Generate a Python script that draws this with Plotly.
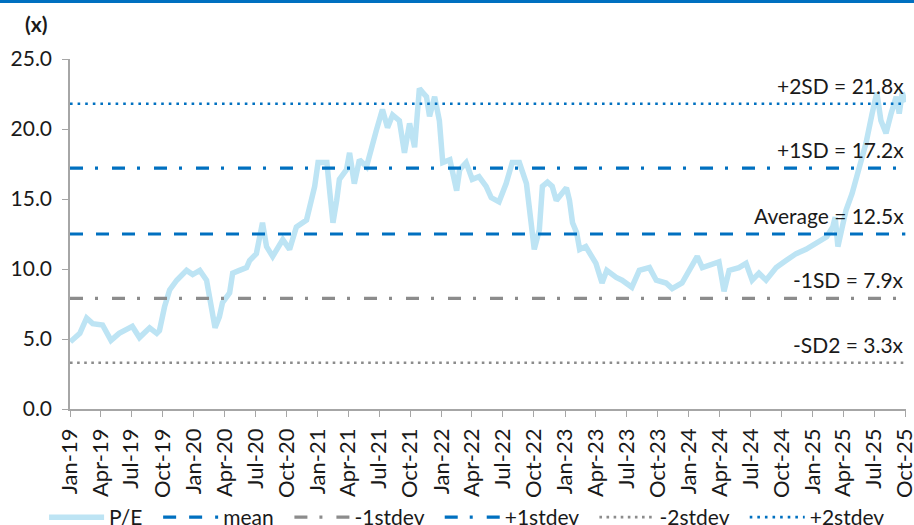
import plotly.graph_objects as go

# ---- data ----
dates = [
    "2019-01-02", "2019-01-30", "2019-02-19", "2019-03-09", "2019-04-07", "2019-05-02",
    "2019-05-26", "2019-07-04", "2019-07-25", "2019-08-24", "2019-09-14", "2019-09-22",
    "2019-10-07", "2019-10-22", "2019-11-12", "2019-12-11", "2019-12-29", "2020-01-19",
    "2020-02-08", "2020-02-23", "2020-03-04", "2020-03-17", "2020-03-26", "2020-04-16",
    "2020-04-25", "2020-05-15", "2020-06-05", "2020-06-14", "2020-07-04", "2020-07-22",
    "2020-08-03", "2020-08-21", "2020-09-20", "2020-10-10", "2020-10-30", "2020-11-29",
    "2020-12-14", "2020-12-23", "2021-01-02", "2021-01-28", "2021-02-06", "2021-02-15",
    "2021-02-26", "2021-03-06", "2021-03-27", "2021-04-05", "2021-04-19", "2021-05-04",
    "2021-05-25", "2021-06-11", "2021-06-23", "2021-07-11", "2021-07-26", "2021-08-10",
    "2021-08-30", "2021-09-14", "2021-09-29", "2021-10-14", "2021-10-28", "2021-11-07",
    "2021-11-18", "2021-11-27", "2021-12-12", "2021-12-26", "2022-01-05", "2022-01-26",
    "2022-02-04", "2022-02-15", "2022-02-24", "2022-03-15", "2022-04-02", "2022-04-22",
    "2022-05-13", "2022-05-28", "2022-06-20", "2022-07-11", "2022-07-29", "2022-08-19",
    "2022-09-09", "2022-09-18", "2022-09-24", "2022-10-02", "2022-10-17", "2022-10-26",
    "2022-11-10", "2022-11-24", "2022-12-06", "2022-12-21", "2023-01-05", "2023-01-14",
    "2023-01-23", "2023-02-04", "2023-02-13", "2023-03-03", "2023-03-21", "2023-04-02",
    "2023-04-20", "2023-05-04", "2023-06-01", "2023-06-18", "2023-07-17", "2023-08-08",
    "2023-09-07", "2023-09-27", "2023-10-26", "2023-11-13", "2023-12-12", "2024-01-03",
    "2024-01-26", "2024-02-10", "2024-03-10", "2024-03-30", "2024-04-14", "2024-04-29",
    "2024-05-28", "2024-06-18", "2024-07-06", "2024-07-26", "2024-08-16", "2024-09-15",
    "2024-10-14", "2024-11-13", "2024-12-12", "2025-01-12", "2025-02-11", "2025-03-01",
    "2025-03-08", "2025-03-16", "2025-03-25", "2025-04-09", "2025-04-27", "2025-05-17",
    "2025-06-07", "2025-06-25", "2025-07-09", "2025-07-21", "2025-08-05", "2025-08-20",
    "2025-09-04", "2025-09-13", "2025-09-22", "2025-09-30",
]
pe = [
    4.8, 5.4, 6.5, 6.1, 6.0, 4.9,
    5.4, 5.9, 5.1, 5.8, 5.4, 5.6,
    7.3, 8.5, 9.2, 9.9, 9.6, 9.9,
    9.2, 7.3, 5.8, 6.6, 7.6, 8.3,
    9.7, 9.9, 10.1, 10.6, 11.1, 13.3,
    11.6, 10.9, 12.1, 11.4, 13.0, 13.5,
    14.9, 15.9, 17.6, 17.6, 15.4, 13.3,
    14.9, 16.4, 17.1, 18.3, 16.1, 17.8,
    17.3, 19.0, 19.9, 21.4, 20.1, 21.0,
    20.6, 18.3, 20.4, 18.7, 22.9, 22.6,
    22.3, 20.9, 22.3, 20.6, 17.6, 17.8,
    16.6, 15.6, 17.1, 17.6, 16.4, 16.6,
    15.9, 15.1, 14.8, 16.1, 17.6, 17.6,
    16.1, 14.0, 12.6, 11.4, 12.8, 15.9,
    16.2, 15.9, 14.9, 15.4, 15.8, 14.9,
    13.3, 12.6, 11.4, 11.6, 10.9, 10.4,
    9.0, 9.9, 9.4, 9.2, 8.7, 9.9,
    10.1, 9.2, 9.0, 8.6, 9.0, 9.9,
    10.9, 10.1, 10.3, 10.5, 8.4, 9.9,
    10.1, 10.4, 9.2, 9.7, 9.2, 10.1,
    10.6, 11.1, 11.4, 11.9, 12.3, 13.0,
    13.7, 11.6, 12.6, 14.2, 15.4, 17.1,
    19.0, 21.1, 22.6, 20.6, 19.7, 21.1,
    22.3, 21.1, 22.6, 21.9,
]

band_names = ["mean", "-1stdev", "+1stdev", "-2stdev", "+2stdev"]
band_values = [12.5, 7.9, 17.2, 3.3, 21.8]
band_labels = ["Average = 12.5x", "-1SD = 7.9x", "+1SD = 17.2x", "-SD2 = 3.3x", "+2SD = 21.8x"]

x_start = "2019-01-01"
x_end = "2025-10-01"
y_ticks = [0, 5, 10, 15, 20, 25]

# ---- styling ----
BLUE = "#0070C0"
GREY = "#8C8C8C"
band_styles = {
    "mean": dict(color=BLUE, width=3.2, dash="13px,13px"),
    "-1stdev": dict(color=GREY, width=3.2, dash="13px,12px,3px,14px"),
    "+1stdev": dict(color=BLUE, width=3.2, dash="13px,12px,3px,14px"),
    "-2stdev": dict(color=GREY, width=2.6, dash="2.6px,4.5px"),
    "+2stdev": dict(color=BLUE, width=2.6, dash="2.6px,5px"),
}
FONT = "Lato"
FS = 21
PAD = "\u00a0" * 2

fig = go.Figure()
fig.add_trace(go.Scatter(
    x=dates, y=pe, mode="lines", name="P/E" + PAD,
    line=dict(color="#BDE4F4", width=5.5),
))
for nm, val in zip(band_names, band_values):
    fig.add_trace(go.Scatter(
        x=[x_start, x_end], y=[val, val], mode="lines", name=nm + PAD,
        line=band_styles[nm],
    ))

for val, lab in zip(band_values, band_labels):
    fig.add_annotation(
        x=1.0, xref="paper", y=val, yref="y", text=lab, showarrow=False,
        xanchor="right", yanchor="bottom", yshift=4,
        font=dict(family=FONT, size=FS, color="#1a1a1a"),
    )

fig.add_annotation(
    x=-0.0395, xref="paper", y=1.1, yref="paper", text="<b>(x)</b>",
    showarrow=False, xanchor="center", yanchor="middle",
    font=dict(family=FONT, size=FS, color="#1a1a1a"),
)

# top blue rule
fig.add_shape(type="line", xref="paper", yref="paper",
              x0=-0.2, x1=1.1, y0=1.164, y1=1.164,
              line=dict(color=BLUE, width=3))

fig.update_layout(
    width=914, height=525,
    margin=dict(l=70, r=8, t=59, b=116, autoexpand=False),
    plot_bgcolor="white", paper_bgcolor="white",
    font=dict(family=FONT, size=FS, color="#1a1a1a"),
    showlegend=True,
    legend=dict(
        orientation="h", x=-0.031, xanchor="left", y=-0.31, yanchor="middle",
        font=dict(family=FONT, size=FS, color="#1a1a1a"),
        itemwidth=55, tracegroupgap=0,
        bgcolor="rgba(0,0,0,0)",
    ),
)
fig.update_xaxes(
    type="date", range=[x_start, "2025-10-03"],
    tick0=x_start, dtick="M3", tickformat="%b-%y", tickangle=-90,
    ticks="outside", ticklen=6, tickcolor="#A6A6A6",
    showline=True, linecolor="#A6A6A6", linewidth=1.5,
    showgrid=False, zeroline=False, ticklabelstandoff=3,
    ticklabeloverflow="allow",
    tickfont=dict(family=FONT, size=22, color="#1a1a1a"),
)
fig.update_yaxes(
    range=[0, 25], tickvals=y_ticks, tickformat=".1f",
    ticks="outside", ticklen=6, tickcolor="#A6A6A6",
    showline=True, linecolor="#A6A6A6", linewidth=1.5,
    showgrid=False, zeroline=False, ticklabelstandoff=6,
    tickfont=dict(family=FONT, size=FS, color="#1a1a1a"),
)

fig.write_html("out.html", config={"displayModeBar": False},
               post_script="document.body.style.margin='0px';")
